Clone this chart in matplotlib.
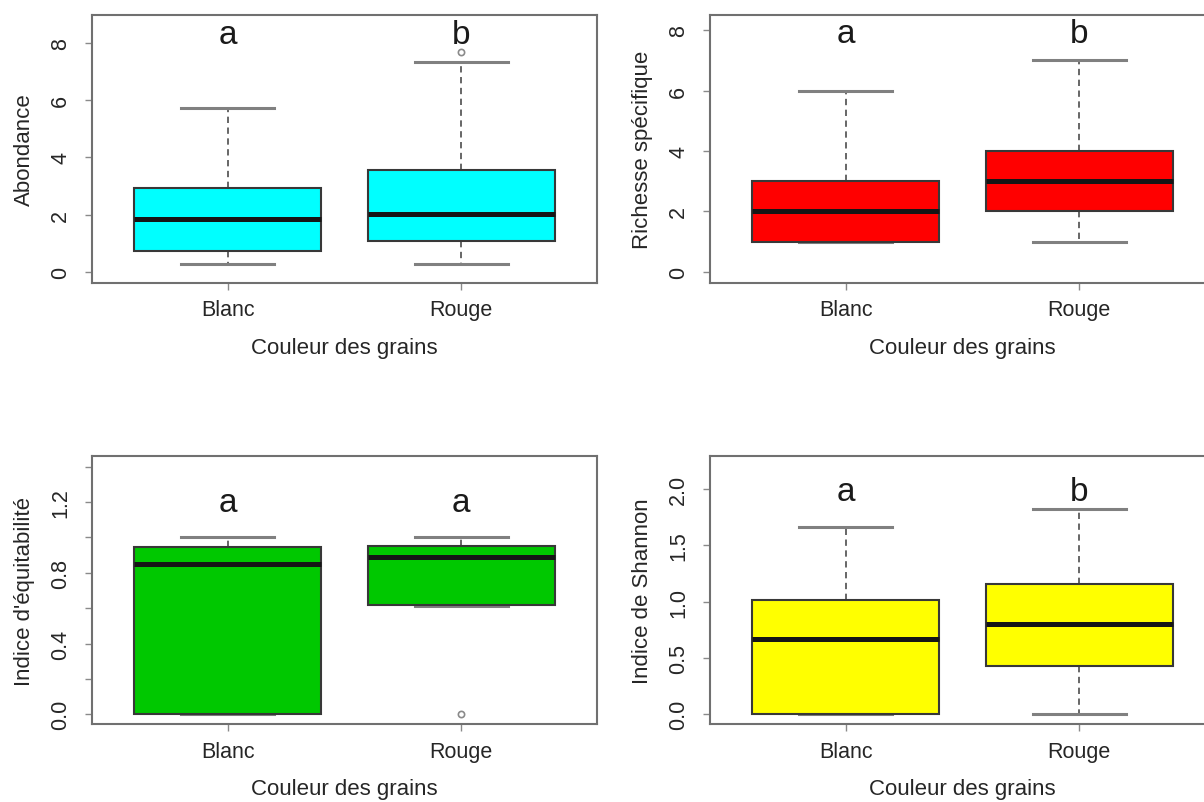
import matplotlib
matplotlib.use("Agg")
import matplotlib.pyplot as plt

plt.rcParams['font.family'] = ['Liberation Sans', 'DejaVu Sans']

groups = ["Blanc", "Rouge"]
xlabel = "Couleur des grains"

# box stats: whisker low, Q1, median, Q3, whisker high, outliers
abond_stats = [(0.27, 0.74, 1.84, 2.92, 5.72, []),
               (0.27, 1.08, 2.03, 3.57, 7.35, [7.69])]
rich_stats = [(1.0, 1.0, 2.0, 3.0, 6.0, []),
              (1.0, 2.0, 3.0, 4.0, 7.0, [])]
equit_stats = [(0.0, 0.0, 0.85, 0.948, 1.0, []),
               (0.61, 0.617, 0.89, 0.95, 1.0, [0.0])]
shannon_stats = [(0.0, 0.0, 0.665, 1.02, 1.66, []),
                 (0.0, 0.43, 0.80, 1.16, 1.82, [])]

abond_letters = ["a", "b"]
rich_letters = ["a", "b"]
equit_letters = ["a", "a"]
shannon_letters = ["a", "b"]

panels = [
    dict(stats=abond_stats, letters=abond_letters, ylabel="Abondance", color="#00FFFF",
         ylim=(-0.38, 8.99), yticks=[0, 2, 4, 6, 8], yminor=[], fmt="{:.0f}", letter_y=8.0,
         pos=[0.0764, 0.6467, 0.4194, 0.3337]),
    dict(stats=rich_stats, letters=rich_letters, ylabel="Richesse spécifique", color="#FF0000",
         ylim=(-0.36, 8.51), yticks=[0, 2, 4, 6, 8], yminor=[], fmt="{:.0f}", letter_y=7.6,
         pos=[0.5897, 0.6467, 0.4194, 0.3337]),
    dict(stats=equit_stats, letters=equit_letters, ylabel="Indice d'équitabilité", color="#00C800",
         ylim=(-0.055, 1.46), yticks=[0.0, 0.4, 0.8, 1.2], yminor=[0.2, 0.6, 1.0, 1.4], fmt="{:.1f}",
         letter_y=1.15, pos=[0.0764, 0.0971, 0.4194, 0.3337]),
    dict(stats=shannon_stats, letters=shannon_letters, ylabel="Indice de Shannon", color="#FFFF00",
         ylim=(-0.086, 2.294), yticks=[0.0, 0.5, 1.0, 1.5, 2.0], yminor=[], fmt="{:.1f}",
         letter_y=1.90, pos=[0.5897, 0.0971, 0.4194, 0.3337]),
]

fig = plt.figure(figsize=(12.04, 8.03), dpi=100)

for p in panels:
    ax = fig.add_axes(p["pos"])
    bxp_stats = []
    for name, (lo, q1, med, q3, hi, fl) in zip(groups, p["stats"]):
        bxp_stats.append(dict(label=name, whislo=lo, q1=q1, med=med, q3=q3, whishi=hi, fliers=fl))

    # whiskers and caps go under the boxes, as in R
    ax.bxp(bxp_stats, positions=[1, 2], widths=0.8, capwidths=0.4, patch_artist=True,
           boxprops=dict(facecolor=p["color"], edgecolor="#383838", linewidth=1.5, zorder=3),
           medianprops=dict(color="#151515", linewidth=3.6, solid_capstyle="butt", zorder=4),
           whiskerprops=dict(color="#5a5a5a", linewidth=1.3, linestyle=(0, (3.5, 2.5)), zorder=2),
           capprops=dict(color="#808080", linewidth=2.2, zorder=2),
           flierprops=dict(marker="o", markerfacecolor="none", markeredgecolor="#8a8a8a",
                           markersize=4.5, markeredgewidth=1.2))

    for xi, letter in zip([1, 2], p["letters"]):
        ax.text(xi, p["letter_y"], letter, ha="center", va="baseline", fontsize=24, color="#1a1a1a")

    ax.set_xlim(0.42, 2.58)
    ax.set_ylim(*p["ylim"])
    ax.set_xticks([1, 2])
    ax.set_xticklabels(groups)
    ax.set_yticks(p["yticks"])
    ax.set_yticklabels([p["fmt"].format(v) for v in p["yticks"]])
    ax.set_yticks(p["yminor"], minor=True)

    for s in ax.spines.values():
        s.set_color("#707070")
        s.set_linewidth(1.5)

    ax.tick_params(axis="both", which="both", direction="out", length=5, width=1.0,
                   color="#8a8a8a", labelsize=15.5, labelcolor="#262626")
    ax.tick_params(axis="x", pad=7)
    ax.tick_params(axis="y", pad=10, labelrotation=90)
    for lab in ax.get_yticklabels():
        lab.set_va("center")

    ax.set_xlabel(xlabel, fontsize=16, color="#262626")
    ax.xaxis.label.set_va("center")
    ax.xaxis.set_label_coords(0.5, -0.24)
    ax.set_ylabel(p["ylabel"], fontsize=16, color="#262626")
    ax.yaxis.label.set_va("center")
    ax.yaxis.set_label_coords(-0.133, 0.5)

fig.savefig("out.png", dpi=100)
